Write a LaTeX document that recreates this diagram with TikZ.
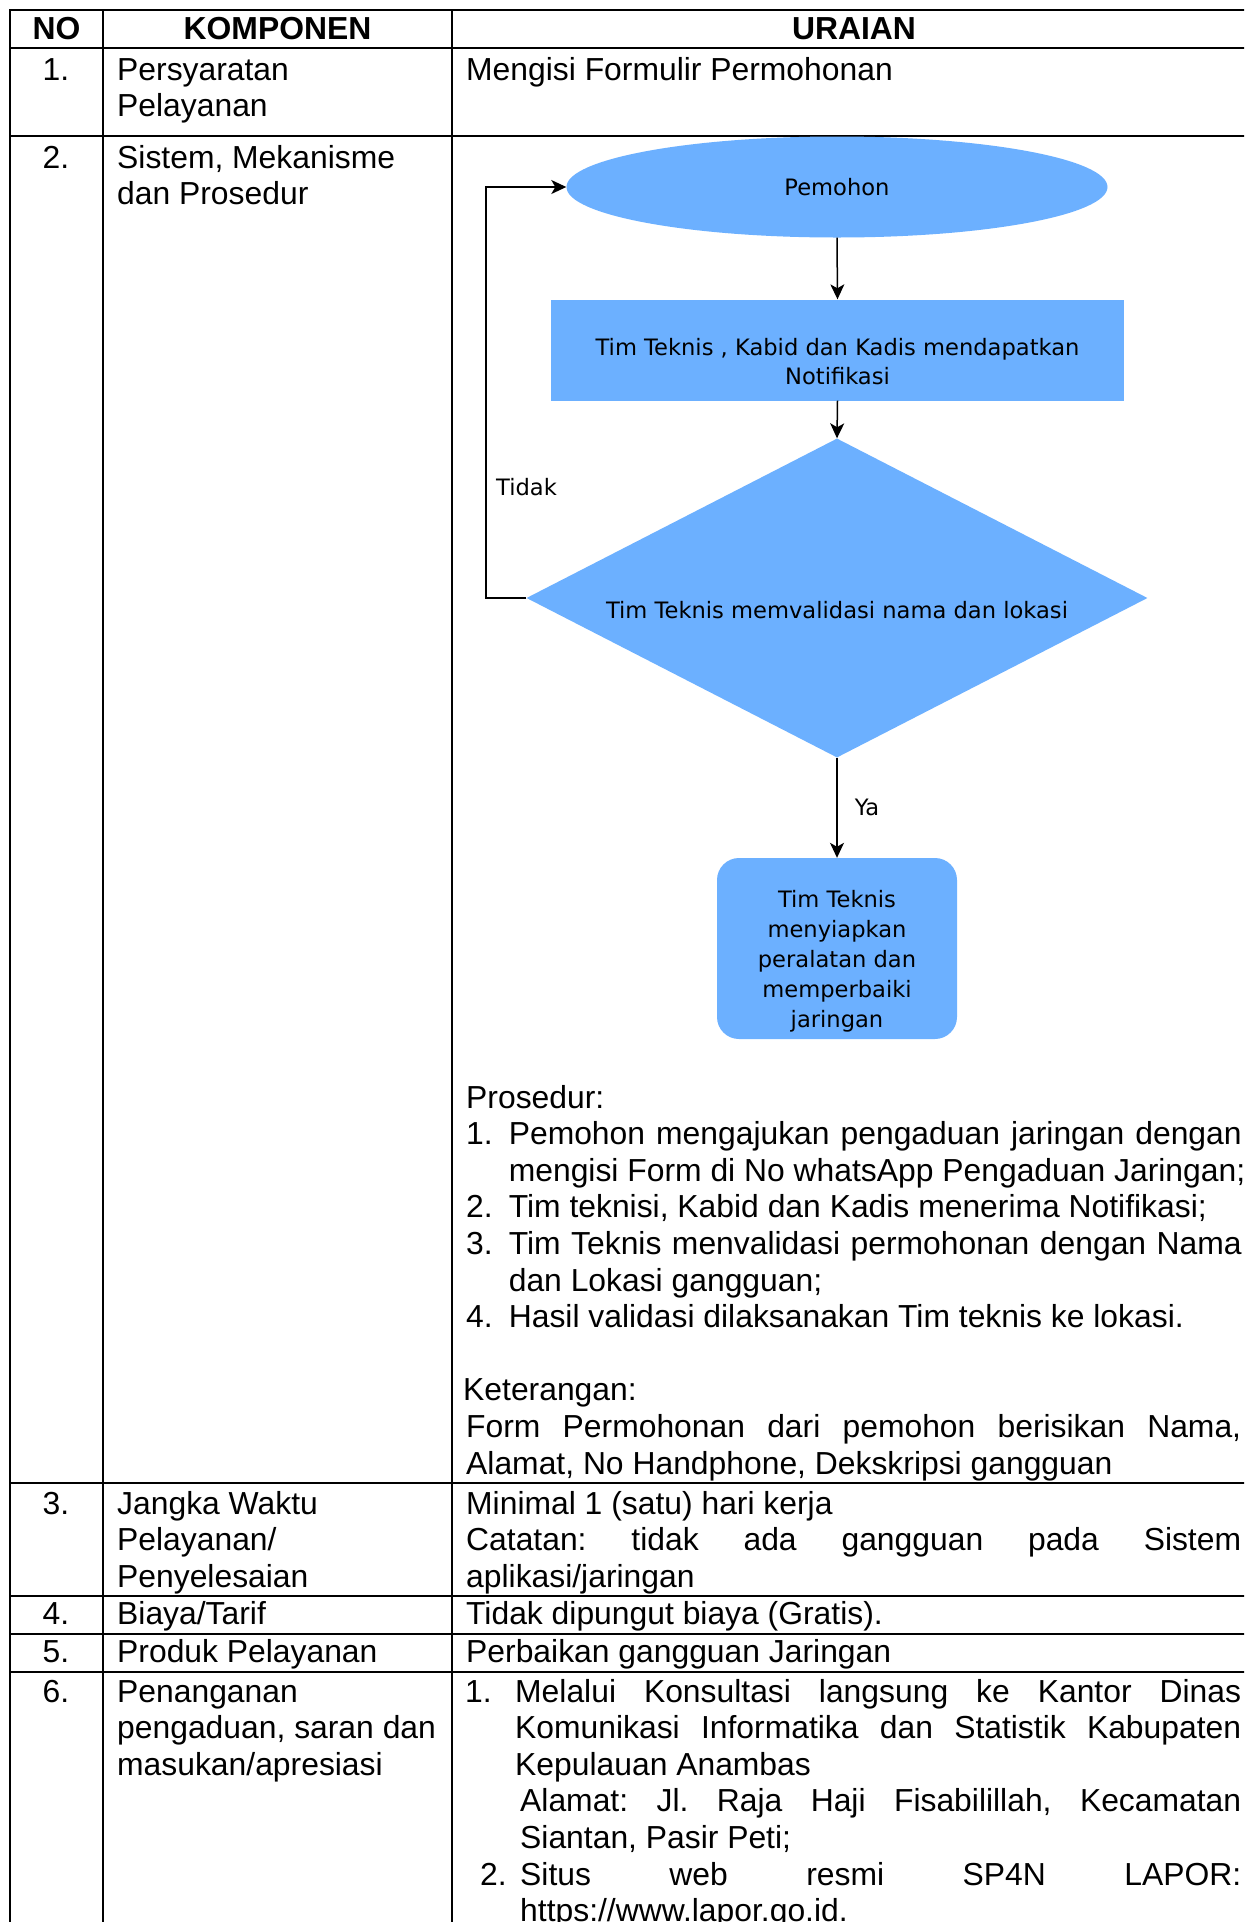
\documentclass[tikz,border=0pt]{standalone}
\usepackage{fontspec}
\setmainfont{Liberation Sans}
\newfontfamily\flowfont{DejaVu Sans}
\usetikzlibrary{shapes.geometric,arrows.meta}
\definecolor{flowblue}{RGB}{108,176,255}
\newcommand{\tbfont}{\fontsize{31.85bp}{36.6bp}\selectfont\frenchspacing}
\newcommand{\fcfont}{\flowfont\fontsize{22.6bp}{30bp}\selectfont}
% a line spread out to a fixed width
\newcommand{\jline}[2]{\makebox[#1][s]{#2}}
% stacked lines, aligned on the first baseline
\newcommand{\lines}[1]{\begin{tabular}[t]{@{}l@{}}#1\end{tabular}}
\begin{document}
\begin{tikzpicture}[x=1bp,y=-1bp,
  rule/.style={line width=2bp},
  cell/.style={inner sep=0pt, anchor=base west, font=\tbfont},
  num/.style={inner sep=0pt, anchor=base, font=\tbfont},
  head/.style={inner sep=0pt, anchor=base, font=\tbfont\bfseries},
  shapebox/.style={fill=flowblue, draw=none, inner sep=0pt},
  flowtxt/.style={inner sep=0pt, align=center, font=\fcfont},
  flowlbl/.style={inner sep=0pt, font=\fcfont},
  link/.style={line width=1.5bp, -{Stealth[length=15bp,width=14bp,inset=4bp]}},
]
\fill[white] (0,0) rectangle (1244,1922);
\useasboundingbox (0,0) rectangle (1244,1922);
\clip (0,0) rectangle (1244,1922);

% table rules
\foreach \yy in {10,48,136,1483,1596,1634,1672}
  \draw[rule] (9,\yy) -- (1260,\yy);
\foreach \xx in {10,103,452}
  \draw[rule] (\xx,9) -- (\xx,1940);

% header
\node[head] (hNo)   at (56.5,39.5) {NO};
\node[head] (hKomp) at (277.5,39.5) {KOMPONEN};
\node[head] (hUr)   at (854,39.5) {URAIAN};

% row 1
\node[num] (n1) at (56,80) {1.};
\node[cell] (k1) at (117,80) {\lines{Persyaratan\\Pelayanan}};
\node[cell] (u1) at (466,80) {Mengisi Formulir Permohonan};

% row 2
\node[num] (n2) at (56,168) {2.};
\node[cell] (k2) at (117,168) {\lines{Sistem, Mekanisme\\dan Prosedur}};

% flowchart
\node[shapebox, ellipse, minimum width=541bp, minimum height=101bp] (pemohon) at (837,187) {};
\node[flowtxt] (pemohonT) at (pemohon.center) {Pemohon};

\node[shapebox, rectangle, minimum width=573bp, minimum height=101bp] (notif) at (837.5,350) {};
\node[flowtxt, font=\flowfont\fontsize{22.6bp}{29bp}\selectfont] (notifT) at (837.5,362)
  {Tim Teknis , Kabid dan Kadis mendapatkan\\Notifikasi};

\node[shapebox, diamond, minimum width=621bp, minimum height=319bp] (valid) at (837,598) {};
\node[flowtxt] (validT) at (837,610) {Tim Teknis memvalidasi nama dan lokasi};

\node[shapebox, rectangle, rounded corners=22bp, minimum width=240bp, minimum height=181bp] (fix) at (837,948.5) {};
\node[flowtxt] (fixT) at (837,961)
  {Tim Teknis\\menyiapkan\\peralatan dan\\memperbaiki\\jaringan};

\draw[link] (pemohon.south) -- (notif.north);
\draw[link] (notif.south) -- (valid.north);
\draw[link] (valid.south) -- node[flowlbl, anchor=west, xshift=17bp] (ya) {Ya} (fix.north);
\coordinate (loopc) at (486,598);
\draw[link] (valid.west) -- (loopc) |- (pemohon.west);
\node[flowlbl, anchor=west] (tidak) at (496,487) {Tidak};

% procedure text
\node[cell] (prosH) at (466,1108) {Prosedur:};
\node[cell] (prosNum) at (466,1144.6) {\lines{1.\\ \\2.\\3.\\ \\4.}};
\node[cell] (prosList) at (508.6,1144.6)
  {\lines{\jline{733bp}{Pemohon mengajukan pengaduan jaringan dengan}\\
   mengisi Form di No whatsApp Pengaduan Jaringan;\\
   Tim teknisi, Kabid dan Kadis menerima Notifikasi;\\
   \jline{733bp}{Tim Teknis menvalidasi permohonan dengan Nama}\\
   dan Lokasi gangguan;\\
   Hasil validasi dilaksanakan Tim teknis ke lokasi.}};
\node[cell] (ketH) at (463,1400.8) {Keterangan:};
\node[cell] (ketTx) at (466,1437.4)
  {\lines{\jline{775bp}{Form Permohonan dari pemohon berisikan Nama,}\\
   Alamat, No Handphone, Dekskripsi gangguan}};

% row 3
\node[num] (n3) at (56,1514) {3.};
\node[cell] (k3) at (117,1514) {\lines{Jangka Waktu\\Pelayanan/\\Penyelesaian}};
\node[cell] (u3) at (466,1514)
  {\lines{Minimal 1 (satu) hari kerja\\
   \jline{775bp}{Catatan: tidak ada gangguan pada Sistem}\\
   aplikasi/jaringan}};

% row 4
\node[num] (n4) at (56,1624) {4.};
\node[cell] (k4) at (117,1624) {Biaya/Tarif};
\node[cell] (u4) at (466,1624) {Tidak dipungut biaya (Gratis).};

% row 5
\node[num] (n5) at (56,1662) {5.};
\node[cell] (k5) at (117,1662) {Produk Pelayanan};
\node[cell] (u5) at (466,1662) {Perbaikan gangguan Jaringan};

% row 6
\node[num] (n6) at (56,1702) {6.};
\node[cell] (k6) at (117,1702) {\lines{Penanganan\\pengaduan, saran dan\\masukan/apresiasi}};
\node[cell] (u6n1) at (465,1702) {1.};
\node[cell] (u6a) at (515,1702)
  {\lines{\jline{726bp}{Melalui Konsultasi langsung ke Kantor Dinas}\\
   \jline{726bp}{Komunikasi Informatika dan Statistik Kabupaten}\\
   Kepulauan Anambas}};
\node[cell] (u6b) at (520,1811.8)
  {\lines{\jline{721bp}{Alamat: Jl. Raja Haji Fisabilillah, Kecamatan}\\
   Siantan, Pasir Peti;}};
\node[cell] (u6n2) at (480,1885) {2.};
\node[cell] (u6c) at (520,1885)
  {\lines{\jline{721bp}{Situs web resmi SP4N LAPOR:}\\
   https://www.lapor.go.id.}};
\end{tikzpicture}
\end{document}
